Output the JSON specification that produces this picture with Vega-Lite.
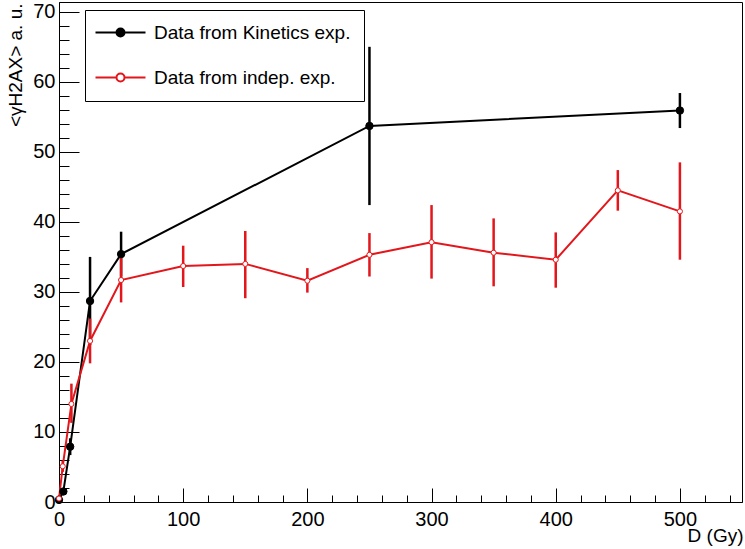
{
  "$schema": "https://vega.github.io/schema/vega-lite/v6.json",
  "width": 683,
  "height": 500,
  "autosize": {"type": "none"},
  "padding": {"left": 59, "top": 2, "right": 3, "bottom": 47},
  "background": "white",
  "config": {
    "view": {"stroke": "black", "strokeWidth": 1},
    "font": "Liberation Sans",
    "axis": {"grid": false, "domainColor": "black", "tickColor": "black", "labelColor": "black", "titleColor": "black", "labelFont": "Liberation Sans", "titleFont": "Liberation Sans", "labelFontSize": 20, "titleFontSize": 19, "titleFontWeight": "normal", "labelOverlap": false, "labelFlush": false, "labelBound": false, "tickWidth": 1, "domainWidth": 1}
  },
  "data": {
    "values": [
      {"x": 0, "y": 0.3, "lo": 0.0, "hi": 0.6, "series": "Data from Kinetics exp."},
      {"x": 3.5, "y": 1.5, "lo": 1.0, "hi": 2.0, "series": "Data from Kinetics exp."},
      {"x": 9, "y": 7.9, "lo": 6.7, "hi": 9.1, "series": "Data from Kinetics exp."},
      {"x": 25, "y": 28.7, "lo": 22.4, "hi": 35.0, "series": "Data from Kinetics exp."},
      {"x": 50, "y": 35.4, "lo": 32.2, "hi": 38.6, "series": "Data from Kinetics exp."},
      {"x": 250, "y": 53.7, "lo": 42.4, "hi": 65.0, "series": "Data from Kinetics exp."},
      {"x": 500, "y": 55.9, "lo": 53.4, "hi": 58.4, "series": "Data from Kinetics exp."},
      {"x": 0, "y": 0.5, "lo": 0.0, "hi": 1.0, "series": "Data from indep. exp."},
      {"x": 3, "y": 5.1, "lo": 4.3, "hi": 5.9, "series": "Data from indep. exp."},
      {"x": 10, "y": 14.0, "lo": 11.3, "hi": 16.9, "series": "Data from indep. exp."},
      {"x": 25, "y": 23.0, "lo": 19.8, "hi": 26.2, "series": "Data from indep. exp."},
      {"x": 50, "y": 31.7, "lo": 28.5, "hi": 34.9, "series": "Data from indep. exp."},
      {"x": 100, "y": 33.7, "lo": 30.7, "hi": 36.6, "series": "Data from indep. exp."},
      {"x": 150, "y": 34.0, "lo": 29.1, "hi": 38.7, "series": "Data from indep. exp."},
      {"x": 200, "y": 31.6, "lo": 29.9, "hi": 33.4, "series": "Data from indep. exp."},
      {"x": 250, "y": 35.3, "lo": 32.2, "hi": 38.4, "series": "Data from indep. exp."},
      {"x": 300, "y": 37.1, "lo": 31.9, "hi": 42.4, "series": "Data from indep. exp."},
      {"x": 350, "y": 35.6, "lo": 30.8, "hi": 40.5, "series": "Data from indep. exp."},
      {"x": 400, "y": 34.6, "lo": 30.6, "hi": 38.5, "series": "Data from indep. exp."},
      {"x": 450, "y": 44.5, "lo": 41.6, "hi": 47.4, "series": "Data from indep. exp."},
      {"x": 500, "y": 41.5, "lo": 34.6, "hi": 48.5, "series": "Data from indep. exp."}
    ]
  },
  "encoding": {
    "x": {
      "field": "x", "type": "quantitative",
      "scale": {"domain": [0, 550], "nice": false, "zero": false},
      "axis": {
        "values": [0,20,40,60,80,100,120,140,160,180,200,220,240,260,280,300,320,340,360,380,400,420,440,460,480,500,520,540],
        "labelExpr": "datum.value % 100 === 0 ? datum.label : ''",
        "tickSize": {"condition": {"test": "datum.value % 100 === 0", "value": -14}, "value": -7},
        "labelPadding": 21,
        "title": "D (Gy)",
        "titleAlign": "right",
        "titleBaseline": "alphabetic",
        "titleX": 684,
        "titleY": 39
      }
    },
    "y": {
      "field": "y", "type": "quantitative", "scale": {"domain": [0, 71.4], "nice": false, "zero": false},
      "axis": {
        "values": [0,2,4,6,8,10,12,14,16,18,20,22,24,26,28,30,32,34,36,38,40,42,44,46,48,50,52,54,56,58,60,62,64,66,68,70],
        "labelExpr": "datum.value % 10 === 0 ? datum.label : ''",
        "tickSize": {"condition": {"test": "datum.value % 10 === 0", "value": -20}, "value": -10},
        "labelPadding": 24,
        "title": "<γH2AX> a. u.",
        "titleAngle": 270,
        "titleAlign": "right",
        "titleBaseline": "alphabetic",
        "titleX": -38,
        "titleY": 1
      }
    },
    "stroke": {
      "field": "series", "type": "nominal",
      "scale": {"domain": ["Data from Kinetics exp.", "Data from indep. exp."], "range": ["black", "#e3161b"]},
      "legend": {"title": null, "orient": "none", "legendX": 26, "legendY": 8, "strokeColor": "black", "fillColor": "white", "padding": 13, "labelFontSize": 19, "labelFont": "Liberation Sans", "labelColor": "black", "labelLimit": 0, "symbolType": "M-5,0H-0.8M0.8,0H5M0.8,0A0.8,0.8,0,1,1,-0.8,0A0.8,0.8,0,1,1,0.8,0Z", "symbolSize": 100, "symbolStrokeWidth": 2, "rowPadding": 25, "symbolOffset": 13, "labelOffset": 24, "symbolOpacity": 1}
    }
  },
  "layer": [
    {
      "mark": {"type": "rule", "strokeWidth": 2.5},
      "encoding": {
        "y": {
          "field": "lo", "type": "quantitative", "scale": {"domain": [0, 71.4], "nice": false, "zero": false},
          "axis": {
            "values": [0,2,4,6,8,10,12,14,16,18,20,22,24,26,28,30,32,34,36,38,40,42,44,46,48,50,52,54,56,58,60,62,64,66,68,70],
            "labelExpr": "datum.value % 10 === 0 ? datum.label : ''",
            "tickSize": {"condition": {"test": "datum.value % 10 === 0", "value": -20}, "value": -10},
            "labelPadding": 24,
            "title": "<γH2AX> a. u.",
            "titleAngle": 270,
            "titleAlign": "right",
            "titleBaseline": "alphabetic",
            "titleX": -38,
            "titleY": 1
          }
        },
        "y2": {"field": "hi"}
      }
    },
    {
      "mark": {"type": "line", "strokeWidth": 2}
    },
    {
      "transform": [{"filter": "datum.series === 'Data from Kinetics exp.'"}],
      "mark": {"type": "point", "shape": "circle", "opacity": 1, "strokeWidth": 1, "size": 55},
      "encoding": {
        "fill": {
          "field": "series", "type": "nominal",
          "scale": {"domain": ["Data from Kinetics exp.", "Data from indep. exp."], "range": ["black", "white"]},
          "legend": {"title": null, "orient": "none", "legendX": 26, "legendY": 8, "strokeColor": "black", "fillColor": "white", "padding": 13, "labelFontSize": 19, "labelFont": "Liberation Sans", "labelColor": "black", "labelLimit": 0, "symbolType": "M-5,0H-0.8M0.8,0H5M0.8,0A0.8,0.8,0,1,1,-0.8,0A0.8,0.8,0,1,1,0.8,0Z", "symbolSize": 100, "symbolStrokeWidth": 2, "rowPadding": 25, "symbolOffset": 13, "labelOffset": 24, "symbolOpacity": 1}
        }
      }
    },
    {
      "transform": [{"filter": "datum.series === 'Data from indep. exp.'"}],
      "mark": {"type": "point", "shape": "circle", "opacity": 1, "strokeWidth": 1, "size": 26},
      "encoding": {
        "fill": {
          "field": "series", "type": "nominal",
          "scale": {"domain": ["Data from Kinetics exp.", "Data from indep. exp."], "range": ["black", "white"]},
          "legend": {"title": null, "orient": "none", "legendX": 26, "legendY": 8, "strokeColor": "black", "fillColor": "white", "padding": 13, "labelFontSize": 19, "labelFont": "Liberation Sans", "labelColor": "black", "labelLimit": 0, "symbolType": "M-5,0H-0.8M0.8,0H5M0.8,0A0.8,0.8,0,1,1,-0.8,0A0.8,0.8,0,1,1,0.8,0Z", "symbolSize": 100, "symbolStrokeWidth": 2, "rowPadding": 25, "symbolOffset": 13, "labelOffset": 24, "symbolOpacity": 1}
        }
      }
    }
  ]
}
